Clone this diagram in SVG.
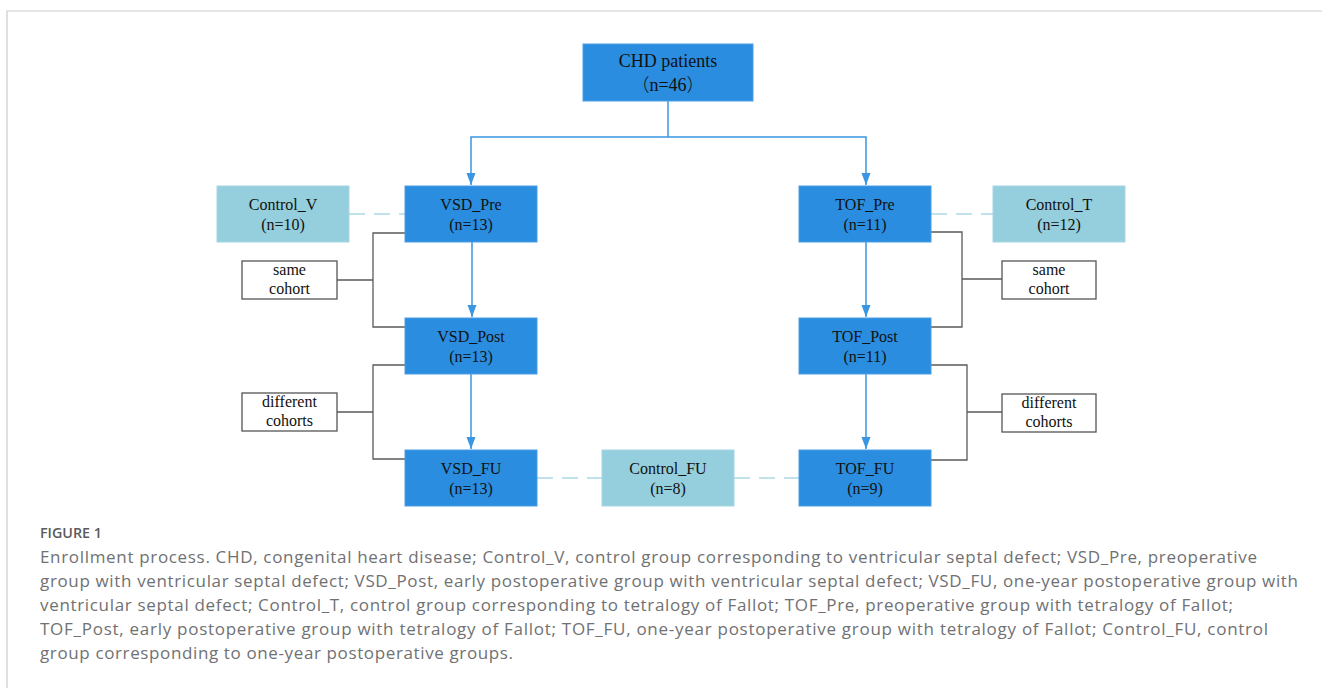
<svg xmlns="http://www.w3.org/2000/svg" width="1322" height="688" viewBox="0 0 1322 688">
<style>
.dk{fill:#2b8ddf;stroke:#4a9fe6;stroke-width:1}
.lt{fill:#95cedc;stroke:#a6d7e3;stroke-width:1}
.wb{fill:#ffffff;stroke:#555555;stroke-width:1.3}
.t{font-family:"Liberation Serif","Noto Sans CJK SC",serif;font-size:16px;fill:#111111;text-anchor:middle}
.t18{font-size:18px}
.fw{font-family:"Noto Sans CJK SC","Noto Sans CJK JP",sans-serif;font-weight:300}
.arr{fill:none;stroke:#3a96e0;stroke-width:1.5}
.br{fill:none;stroke:#5a5a5a;stroke-width:1.3}
.ds{fill:none;stroke:#bfe2ec;stroke-width:2;stroke-dasharray:16 9}
.cap{font-family:"Open Sans",Lato,sans-serif;font-size:17px;fill:#707173}
.fig{font-family:"Open Sans",Lato,sans-serif;font-size:14px;font-weight:600;fill:#5a5b5d}
</style>
<defs>
<marker id="ah" markerUnits="userSpaceOnUse" markerWidth="12" markerHeight="10" refX="12" refY="4.5" orient="auto">
<path d="M0,0 L12,4.5 L0,9 z" fill="#3a96e0"/>
</marker>
</defs>
<rect x="0" y="0" width="1322" height="688" fill="#ffffff"/>
<path d="M7,688 V11 H1322" fill="none" stroke="#cccccc" stroke-width="1.2"/>

<g id="connectors">
<path class="arr" d="M668,101 V137"/>
<path class="arr" d="M668,137 H471 V185" marker-end="url(#ah)"/>
<path class="arr" d="M668,137 H866 V185" marker-end="url(#ah)"/>
<path class="arr" d="M472,242 V317" marker-end="url(#ah)"/>
<path class="arr" d="M471,374 V449" marker-end="url(#ah)"/>
<path class="arr" d="M866,242 V317" marker-end="url(#ah)"/>
<path class="arr" d="M866,374 V449" marker-end="url(#ah)"/>
<path class="br" d="M405,233 H373 V327 H405 M373,280 H337"/>
<path class="br" d="M405,365 H373 V459 H405 M373,412 H337"/>
<path class="br" d="M931,232 H962 V327 H931 M962,279 H1002"/>
<path class="br" d="M931,365 H967 V460 H931 M967,412 H1002"/>
<path class="ds" d="M349,214 H405"/>
<path class="ds" d="M931,214 H993"/>
<path class="ds" d="M537,478 H602"/>
<path class="ds" d="M734,478 H799"/>
</g>

<g id="chd"><rect class="dk" x="583" y="44" width="170" height="57"/>
<text class="t t18" x="668" y="67">CHD patients</text>
<text class="t t18" x="668" y="91"><tspan class="fw">（</tspan>n=46<tspan class="fw">）</tspan></text></g>

<g id="control_v"><rect class="lt" x="217" y="186" width="132" height="56"/>
<text class="t" x="283" y="210">Control_V</text><text class="t" x="283" y="230">(n=10)</text></g>

<g id="vsd_pre"><rect class="dk" x="405" y="186" width="132" height="56"/>
<text class="t" x="471" y="210">VSD_Pre</text><text class="t" x="471" y="230">(n=13)</text></g>

<g id="vsd_post"><rect class="dk" x="405" y="318" width="132" height="56"/>
<text class="t" x="471" y="342">VSD_Post</text><text class="t" x="471" y="362">(n=13)</text></g>

<g id="vsd_fu"><rect class="dk" x="405" y="450" width="132" height="56"/>
<text class="t" x="471" y="474">VSD_FU</text><text class="t" x="471" y="494">(n=13)</text></g>

<g id="control_fu"><rect class="lt" x="602" y="450" width="132" height="56"/>
<text class="t" x="668" y="474">Control_FU</text><text class="t" x="668" y="494">(n=8)</text></g>

<g id="tof_pre"><rect class="dk" x="799" y="186" width="132" height="56"/>
<text class="t" x="865" y="210">TOF_Pre</text><text class="t" x="865" y="230">(n=11)</text></g>

<g id="control_t"><rect class="lt" x="993" y="186" width="132" height="56"/>
<text class="t" x="1059" y="210">Control_T</text><text class="t" x="1059" y="230">(n=12)</text></g>

<g id="tof_post"><rect class="dk" x="799" y="318" width="132" height="56"/>
<text class="t" x="865" y="342">TOF_Post</text><text class="t" x="865" y="362">(n=11)</text></g>

<g id="tof_fu"><rect class="dk" x="799" y="450" width="132" height="56"/>
<text class="t" x="865" y="474">TOF_FU</text><text class="t" x="865" y="494">(n=9)</text></g>

<g id="same_left"><rect class="wb" x="242" y="261" width="95" height="38"/>
<text class="t" x="289.5" y="275">same</text><text class="t" x="289.5" y="294">cohort</text></g>

<g id="diff_left"><rect class="wb" x="242" y="393" width="95" height="38"/>
<text class="t" x="289.5" y="407">different</text><text class="t" x="289.5" y="426">cohorts</text></g>

<g id="same_right"><rect class="wb" x="1002" y="261" width="94" height="38"/>
<text class="t" x="1049" y="275">same</text><text class="t" x="1049" y="294">cohort</text></g>

<g id="diff_right"><rect class="wb" x="1002" y="394" width="94" height="38"/>
<text class="t" x="1049" y="408">different</text><text class="t" x="1049" y="427">cohorts</text></g>

<g id="caption">
<text class="fig" x="40" y="538" textLength="62" lengthAdjust="spacingAndGlyphs">FIGURE 1</text>
<text class="cap" x="40" y="563" textLength="1217" lengthAdjust="spacing">Enrollment process. CHD, congenital heart disease; Control_V, control group corresponding to ventricular septal defect; VSD_Pre, preoperative</text>
<text class="cap" x="40" y="587" textLength="1258" lengthAdjust="spacing">group with ventricular septal defect; VSD_Post, early postoperative group with ventricular septal defect; VSD_FU, one-year postoperative group with</text>
<text class="cap" x="40" y="611" textLength="1193" lengthAdjust="spacing">ventricular septal defect; Control_T, control group corresponding to tetralogy of Fallot; TOF_Pre, preoperative group with tetralogy of Fallot;</text>
<text class="cap" x="40" y="635" textLength="1228" lengthAdjust="spacing">TOF_Post, early postoperative group with tetralogy of Fallot; TOF_FU, one-year postoperative group with tetralogy of Fallot; Control_FU, control</text>
<text class="cap" x="40" y="659" textLength="473" lengthAdjust="spacing">group corresponding to one-year postoperative groups.</text>
</g>
</svg>
